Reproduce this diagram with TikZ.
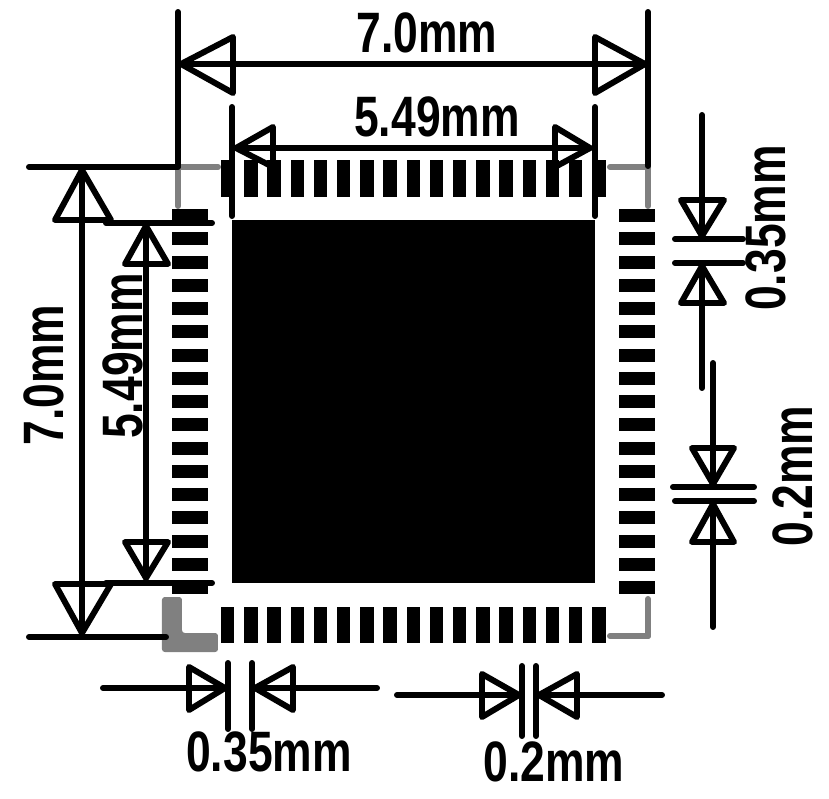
\documentclass[tikz,border=0pt]{standalone}
\usepackage{fontspec}
\usepackage{tkz-euclide}
\usepackage{amsmath}
\newfontfamily\dimfont[FakeStretch=0.78]{Liberation Sans Bold}
\tikzset{
    dimline/.style={black,line width=1.7pt,line cap=round,line join=round},
    silkline/.style={color=gray,line width=1.7pt,line cap=round,line join=miter},
    dimtext/.style={inner sep=0pt,font=\dimfont\fontsize{16.2}{16.2}\selectfont},
    padfill/.style={fill=black}
}

\begin{document}
\begin{tikzpicture}[x=0.01cm, y=-0.01cm]
    \useasboundingbox (0,0) rectangle (829,799);
    % package outline corners
    \tkzDefPoints{178/206/Sa,178/167/Sb,218/167/Sc,610/167/Sd,648/167/Se,648/206/Sf}
    \tkzDefPoints{648/599/Sg,648/636/Sh,610/636/Si}
    \tkzDefPoints{162/597/Sj,182/597/Sk,182/633/Sl,218/633/Sm,218/652/Sn,162/652/So}
    \tkzDrawSegments[silkline](Sa,Sb Sb,Sc Sd,Se Se,Sf Sg,Sh Sh,Si)
    \fill[gray,rounded corners=0.8pt] (Sj) -- (Sk) -- (Sl) -- (Sm) -- (Sn) -- (So) -- cycle;
    % pads and exposed pad
    \foreach \i in {0,...,16}{
        \fill[padfill] ({221+23.2*\i},160) rectangle +(13.5,37);
        \fill[padfill] ({221+23.2*\i},607) rectangle +(13.5,36);
        \fill[padfill] (172,{209+23.25*\i}) rectangle +(36,13);
        \fill[padfill] (619,{209+23.25*\i}) rectangle +(36,13);
    }
    \fill[padfill] (232,220) rectangle (595,583);
    % top 7.0mm
    \tkzDefPoints{178/12/Ta,178/166/Tb,648/12/Tc,648/166/Td,181/64/Te,645/64/Tf}
    \tkzDefPoints{233/37/Tg,233/93/Th,595/37/Ti,595/93/Tj}
    \tkzDrawSegments[dimline](Ta,Tb Tc,Td Te,Tf)
    \tkzDrawPolygon[dimline](Te,Tg,Th)
    \tkzDrawPolygon[dimline](Tf,Ti,Tj)
    % top 5.49mm
    \tkzDefPoints{232/107/Ua,232/216/Ub,595/107/Uc,595/216/Ud,236/148/Ue,590/148/Uf}
    \tkzDefPoints{273/127/Ug,273/167/Uh,555/127/Ui,555/167/Uj}
    \tkzDrawSegments[dimline](Ua,Ub Uc,Ud Ue,Uf)
    \tkzDrawPolygon[dimline](Ue,Ug,Uh)
    \tkzDrawPolygon[dimline](Uf,Ui,Uj)
    % left 7.0mm
    \tkzDefPoints{29/167/La,178/167/Lb,29/637/Lc,166/637/Ld,82/170/Le,82/633/Lf}
    \tkzDefPoints{55/220/Lg,111/220/Lh,55/584/Li,111/584/Lj}
    \tkzDrawSegments[dimline](La,Lb Lc,Ld Le,Lf)
    \tkzDrawPolygon[dimline](Le,Lg,Lh)
    \tkzDrawPolygon[dimline](Lf,Li,Lj)
    % left 5.49mm
    \tkzDefPoints{106/223/Ma,212/223/Mb,106/583/Mc,212/583/Md,146/226/Me,146/578/Mf}
    \tkzDefPoints{125/264/Mg,168/264/Mh,125/542/Mi,168/542/Mj}
    \tkzDrawSegments[dimline](Ma,Mb Mc,Md Me,Mf)
    \tkzDrawPolygon[dimline](Me,Mg,Mh)
    \tkzDrawPolygon[dimline](Mf,Mi,Mj)
    % right 0.35mm
    \tkzDefPoints{675/239/Ra,743/239/Rb,675/263/Rc,743/263/Rd,702/115/Re,702/236/Rf,702/266/Rg,702/388/Rh}
    \tkzDefPoints{681/200/Ri,724/200/Rj,681/303/Rk,724/303/Rl}
    \tkzDrawSegments[dimline](Ra,Rb Rc,Rd Re,Rf Rg,Rh)
    \tkzDrawPolygon[dimline](Rf,Ri,Rj)
    \tkzDrawPolygon[dimline](Rg,Rk,Rl)
    % right 0.2mm
    \tkzDefPoints{673/487/Va,754/487/Vb,675/501/Vc,754/501/Vd,713/363/Ve,713/484/Vf,713/504/Vg,713/627/Vh}
    \tkzDefPoints{692/448/Vi,734/448/Vj,692/542/Vk,734/542/Vl}
    \tkzDrawSegments[dimline](Va,Vb Vc,Vd Ve,Vf Vg,Vh)
    \tkzDrawPolygon[dimline](Vf,Vi,Vj)
    \tkzDrawPolygon[dimline](Vg,Vk,Vl)
    % bottom 0.35mm
    \tkzDefPoints{228/663/Ba,228/729/Bb,252/663/Bc,252/729/Bd,103/688/Be,225/688/Bf,255/688/Bg,377/688/Bh}
    \tkzDefPoints{189/667/Bi,189/710/Bj,293/667/Bk,293/710/Bl}
    \tkzDrawSegments[dimline](Ba,Bb Bc,Bd Be,Bf Bg,Bh)
    \tkzDrawPolygon[dimline](Bf,Bi,Bj)
    \tkzDrawPolygon[dimline](Bg,Bk,Bl)
    % bottom 0.2mm
    \tkzDefPoints{522/666/Ca,522/736/Cb,536/666/Cc,536/736/Cd,397/695/Ce,519/695/Cf,539/695/Cg,662/695/Ch}
    \tkzDefPoints{482/674/Ci,482/717/Cj,577/674/Ck,577/717/Cl}
    \tkzDrawSegments[dimline](Ca,Cb Cc,Cd Ce,Cf Cg,Ch)
    \tkzDrawPolygon[dimline](Cf,Ci,Cj)
    \tkzDrawPolygon[dimline](Cg,Ck,Cl)
    % labels
    \node[dimtext] (topseven) at (427,33) {7.0mm};
    \node[dimtext] (topfive) at (437,117) {5.49mm};
    \node[dimtext,rotate=90] (leftseven) at (44,375) {7.0mm};
    \node[dimtext,rotate=90] (leftfive) at (123,356) {5.49mm};
    \node[dimtext,rotate=90] (rightthree) at (766,228) {0.35mm};
    \node[dimtext,rotate=90] (righttwo) at (793,476) {0.2mm};
    \node[dimtext] (botthree) at (269,752) {0.35mm};
    \node[dimtext] (bottwo) at (554,762) {0.2mm};
\end{tikzpicture}
\end{document}
